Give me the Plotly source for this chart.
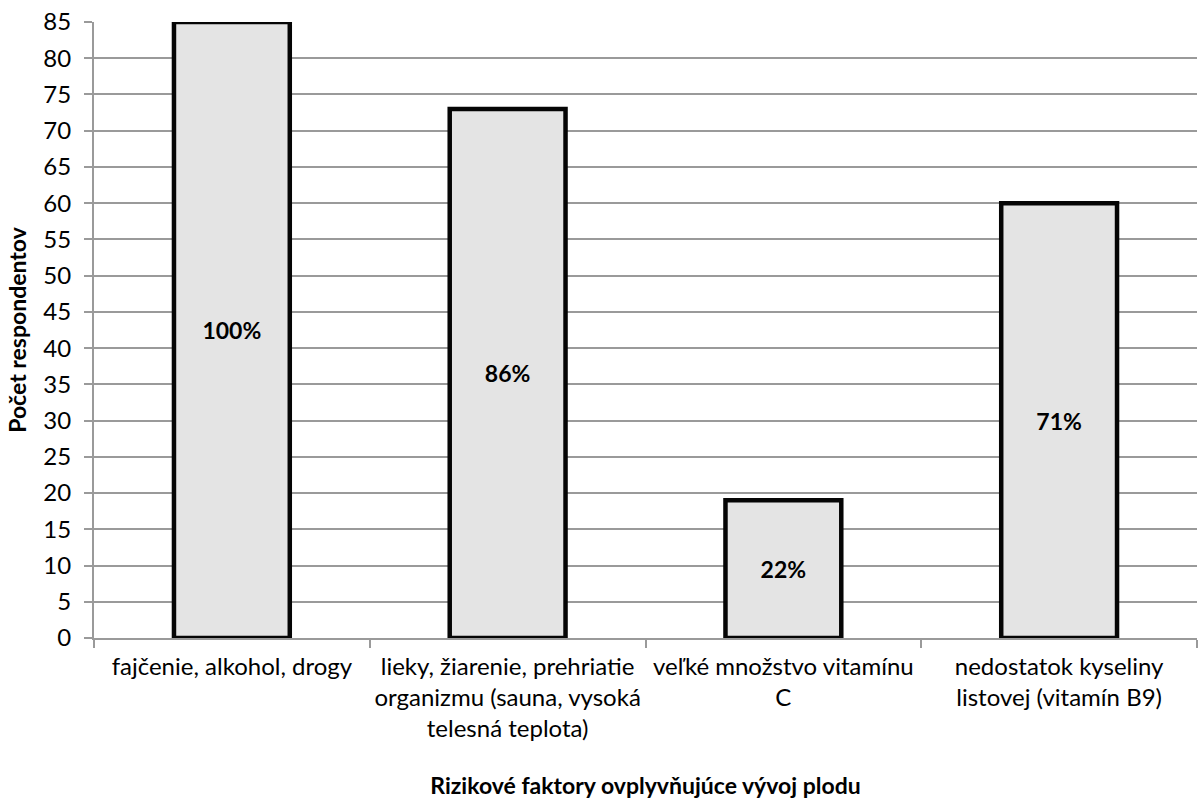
import plotly.graph_objects as go

categories = [
    "fajčenie, alkohol, drogy",
    "lieky, žiarenie, prehriatie<br>organizmu (sauna, vysoká<br>telesná teplota)",
    "veľké množstvo vitamínu<br>C",
    "nedostatok kyseliny<br>listovej (vitamín B9)",
]
respondents = [85, 73, 19, 60]
percent_labels = ["100%", "86%", "22%", "71%"]
y_ticks = list(range(0, 90, 5))

FONT = "Lato"
TICK_SIZE = 24
TITLE_SIZE = 23

fig = go.Figure(
    go.Bar(
        x=categories,
        y=respondents,
        text=percent_labels,
        textposition="inside",
        insidetextanchor="middle",
        textangle=0,
        textfont=dict(family=FONT, size=23, color="black", weight="bold"),
        marker=dict(color="#e4e4e4", line=dict(color="#050505", width=4.5)),
        width=0.42,
        cliponaxis=False,
    )
)

fig.update_layout(
    width=1204,
    height=799,
    margin=dict(l=94, r=7, t=22, b=161),
    plot_bgcolor="white",
    paper_bgcolor="white",
    font=dict(family=FONT, size=TICK_SIZE, color="black"),
    showlegend=False,
)

fig.update_xaxes(
    showline=True,
    linecolor="#9a9a9a",
    linewidth=2,
    ticks="outside",
    tickson="boundaries",
    ticklen=8,
    tickcolor="#9a9a9a",
    tickwidth=2,
    tickangle=0,
    ticklabelstandoff=6,
    automargin=False,
    tickfont=dict(family=FONT, size=TICK_SIZE),
    title=dict(
        text="<b>Rizikové faktory ovplyvňujúce vývoj plodu</b>",
        font=dict(family=FONT, size=TITLE_SIZE),
        standoff=44,
    ),
)

fig.update_yaxes(
    range=[0, 85],
    tickvals=y_ticks,
    showline=True,
    linecolor="#9a9a9a",
    linewidth=2,
    ticks="outside",
    ticklen=8,
    tickcolor="#9a9a9a",
    tickwidth=2,
    ticklabelstandoff=8,
    showgrid=True,
    gridcolor="#9a9a9a",
    gridwidth=1.5,
    zeroline=False,
    automargin=False,
    tickfont=dict(family=FONT, size=TICK_SIZE),
    title=dict(
        text="<b>Počet respondentov</b>",
        font=dict(family=FONT, size=TITLE_SIZE),
        standoff=10,
    ),
)

fig.write_html("out.html")
